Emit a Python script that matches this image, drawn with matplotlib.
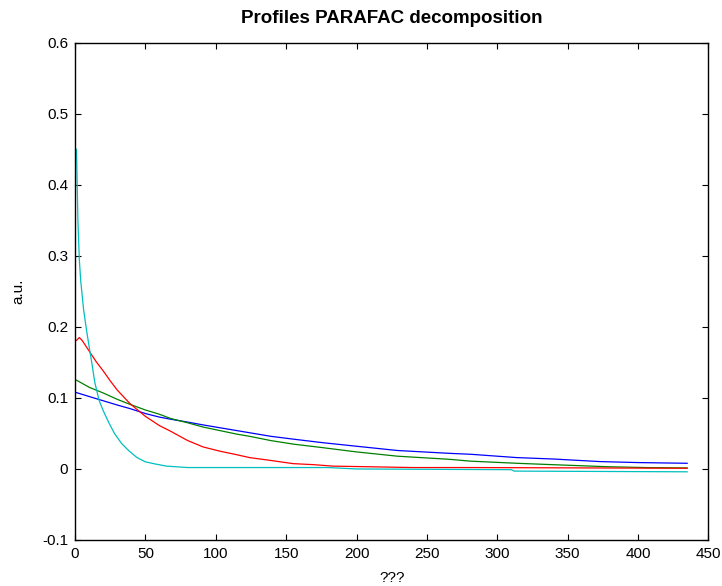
import matplotlib
matplotlib.use("Agg")
import matplotlib.pyplot as plt

plt.rcParams['font.family'] = ['Liberation Sans', 'DejaVu Sans']

# Component profiles (x index, loading) for the four PARAFAC factors
blue_x = [1, 10, 20, 30, 39, 50, 60, 68, 80, 91, 103, 124, 139, 155, 176, 200,
          229, 266, 281, 314, 340, 373, 400, 435]
blue_y = [0.1075, 0.102, 0.096, 0.090, 0.085, 0.078, 0.073, 0.070, 0.066, 0.062,
          0.058, 0.051, 0.046, 0.042, 0.037, 0.032, 0.026, 0.022, 0.0207, 0.016,
          0.014, 0.0104, 0.009, 0.008]

green_x = [1, 10, 20, 30, 39, 50, 60, 68, 80, 91, 103, 115, 124, 139, 155, 176,
           200, 229, 266, 281, 314, 340, 378, 405, 435]
green_y = [0.125, 0.115, 0.107, 0.098, 0.091, 0.083, 0.077, 0.071, 0.065, 0.059,
           0.054, 0.049, 0.046, 0.040, 0.035, 0.030, 0.024, 0.018, 0.0136, 0.011,
           0.008, 0.006, 0.0032, 0.002, 0.0014]

red_x = [1, 3, 5, 8, 11, 15, 20, 25, 30, 39, 50, 60, 68, 80, 91, 103, 115, 124,
         139, 155, 170, 183, 212, 240, 281, 435]
red_y = [0.181, 0.185, 0.181, 0.172, 0.163, 0.151, 0.138, 0.124, 0.111, 0.092,
         0.074, 0.061, 0.053, 0.040, 0.031, 0.025, 0.020, 0.016, 0.012, 0.0075,
         0.006, 0.004, 0.003, 0.002, 0.002, 0.001]

cyan_x = [1, 2, 3, 4, 6, 8, 10, 12, 14, 17, 20, 24, 28, 33, 38, 44, 50, 57, 65,
          80, 180, 200, 310, 312, 435]
cyan_y = [0.45, 0.35, 0.295, 0.265, 0.225, 0.197, 0.172, 0.148, 0.122, 0.097,
          0.082, 0.065, 0.050, 0.036, 0.026, 0.016, 0.010, 0.007, 0.004, 0.002,
          0.002, 0.0, -0.001, -0.003, -0.004]

x_ticks = [0, 50, 100, 150, 200, 250, 300, 350, 400, 450]
y_ticks = [-0.1, 0, 0.1, 0.2, 0.3, 0.4, 0.5, 0.6]
y_tick_labels = ['-0.1', '0', '0.1', '0.2', '0.3', '0.4', '0.5', '0.6']

fig = plt.figure(figsize=(7.22, 5.86), dpi=100)
ax = fig.add_axes([0.104, 0.0785, 0.877, 0.8485])

lw = 0.9
ax.plot(blue_x, blue_y, color=(0, 0, 1), lw=lw)
ax.plot(green_x, green_y, color=(0, 0.5, 0), lw=lw)
ax.plot(red_x, red_y, color=(1, 0, 0), lw=lw)
ax.plot(cyan_x, cyan_y, color=(0, 0.75, 0.75), lw=lw)

ax.set_xlim(0, 450)
ax.set_ylim(-0.1, 0.6)
ax.set_xticks(x_ticks)
ax.set_yticks(y_ticks)
ax.set_yticklabels(y_tick_labels)
ax.tick_params(direction='in', length=4, width=0.8, top=True, right=True,
               labelsize=11, pad=5)
for s in ax.spines.values():
    s.set_linewidth(1.0)

ax.set_title('Profiles PARAFAC decomposition', fontsize=13.5,
             fontweight='bold', pad=14)
ax.set_xlabel('???', fontsize=11, labelpad=7)
ax.set_ylabel('a.u.', fontsize=11, labelpad=12)

fig.savefig('out.png', dpi=100)
